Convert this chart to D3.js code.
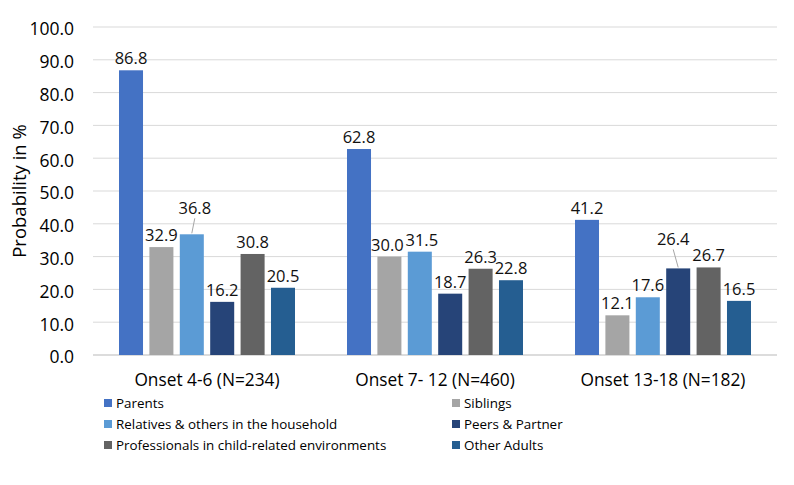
<!DOCTYPE html>
<html>
<head>
<meta charset="utf-8">
<script src="https://cdn.jsdelivr.net/npm/d3@7"></script>
<style>
  body { margin: 0; background: #fff; }
  svg { display: block; font-family: 'Open Sans', 'Noto Sans', sans-serif; }
</style>
</head>
<body>
<svg id="chart" width="794" height="485"></svg>
<script>
const categories = ["Onset 4-6 (N=234)", "Onset 7- 12 (N=460)", "Onset 13-18 (N=182)"];
const seriesNames = ["Parents", "Siblings", "Relatives & others in the household", "Peers & Partner", "Professionals in child-related environments", "Other Adults"];
const parents = [86.8, 62.8, 41.2];
const siblings = [32.9, 30.0, 12.1];
const relatives = [36.8, 31.5, 17.6];
const peers = [16.2, 18.7, 26.4];
const professionals = [30.8, 26.3, 26.7];
const otherAdults = [20.5, 22.8, 16.5];
const yTicks = [0, 10, 20, 30, 40, 50, 60, 70, 80, 90, 100];

const seriesValues = [parents, siblings, relatives, peers, professionals, otherAdults];
const colors = ["#4472C4", "#A5A5A5", "#5B9BD5", "#264478", "#636363", "#255E91"];
// label nudges (dx, dy, leader) for labels moved away from bar
const labelNudge = { "2-0": [3, -14, true], "3-2": [-5, -17, true], "1-1": [-2, 0, false], "2-1": [2, 0, false] };

const svg = d3.select("#chart");
const margin = { left: 93, right: 17, top: 27, bottom: 130 };
const W = 794, H = 485;
const x0 = d3.scaleBand().domain(categories).range([margin.left, W - margin.right]).paddingInner(0).paddingOuter(0);
const x1 = d3.scaleBand().domain(d3.range(seriesNames.length)).range([26, x0.bandwidth() - 26]).paddingInner(0.21).paddingOuter(0);
const y = d3.scaleLinear().domain([0, 100]).range([H - margin.bottom, margin.top]);

// gridlines
svg.append("g").selectAll("line").data(yTicks).join("line")
  .attr("x1", margin.left).attr("x2", W - margin.right)
  .attr("y1", d => y(d)).attr("y2", d => y(d))
  .attr("stroke", d => d === 0 ? "#d0d0d0" : "#d9d9d9").attr("stroke-width", d => d === 0 ? 1.5 : 1);

// y axis labels
const yAxis = d3.axisLeft(y).tickValues(yTicks).tickFormat(d3.format(".1f")).tickSize(0).tickPadding(0);
const ya = svg.append("g").attr("transform", `translate(${74},0)`).call(yAxis);
ya.select(".domain").remove();
ya.selectAll("text").attr("font-size", 17.5).attr("fill", "#000").attr("dy", "0.45em")
  .style("font-family", "'Open Sans', sans-serif");

svg.append("text").attr("transform", `translate(26,${y(50)}) rotate(-90)`)
  .attr("text-anchor", "middle").attr("font-size", 18.5).attr("fill", "#000").text("Probability in %");

// bars
const groups = svg.append("g").selectAll("g").data(categories).join("g")
  .attr("transform", d => `translate(${x0(d)},0)`);
groups.each(function(cat, ci) {
  const g = d3.select(this);
  seriesValues.forEach((vals, si) => {
    const v = vals[ci];
    const bx = x1(si), bw = x1.bandwidth();
    g.append("rect").attr("x", bx).attr("y", y(v)).attr("width", bw).attr("height", y(0) - y(v))
      .attr("fill", colors[si]);
    const nudge = labelNudge[`${si}-${ci}`];
    const cx = bx + bw / 2;
    const lx = cx + (nudge ? nudge[0] : 0);
    const ly = y(v) - 6 + (nudge ? nudge[1] : 0);
    if (nudge && nudge[2]) {
      g.append("line").attr("x1", cx).attr("y1", y(v) - 1).attr("x2", lx).attr("y2", ly + 4)
        .attr("stroke", "#a6a6a6").attr("stroke-width", 1);
    }
    g.append("text").attr("x", lx).attr("y", ly).attr("text-anchor", "middle")
      .attr("font-size", 16.5).attr("fill", "#111").text(d3.format(".1f")(v));
  });
});

// x axis labels
svg.append("g").selectAll("text").data(categories).join("text")
  .attr("x", d => x0(d) + x0.bandwidth() / 2).attr("y", 386)
  .attr("text-anchor", "middle").attr("font-size", 17.3).attr("fill", "#000").text(d => d);

// legend
const legX = [104, 452], legY = [403, 424, 445];
const leg = svg.append("g").selectAll("g").data(seriesNames).join("g")
  .attr("transform", (d, i) => `translate(${legX[i % 2]},${legY[Math.floor(i / 2)]})`);
leg.append("rect").attr("x", 0).attr("y", -4).attr("width", 8).attr("height", 8).attr("fill", (d, i) => colors[i]);
leg.append("text").attr("x", 12).attr("y", 0).attr("dy", "0.35em").attr("font-size", 13.4).attr("fill", "#000").text(d => d);
</script>
</body>
</html>
